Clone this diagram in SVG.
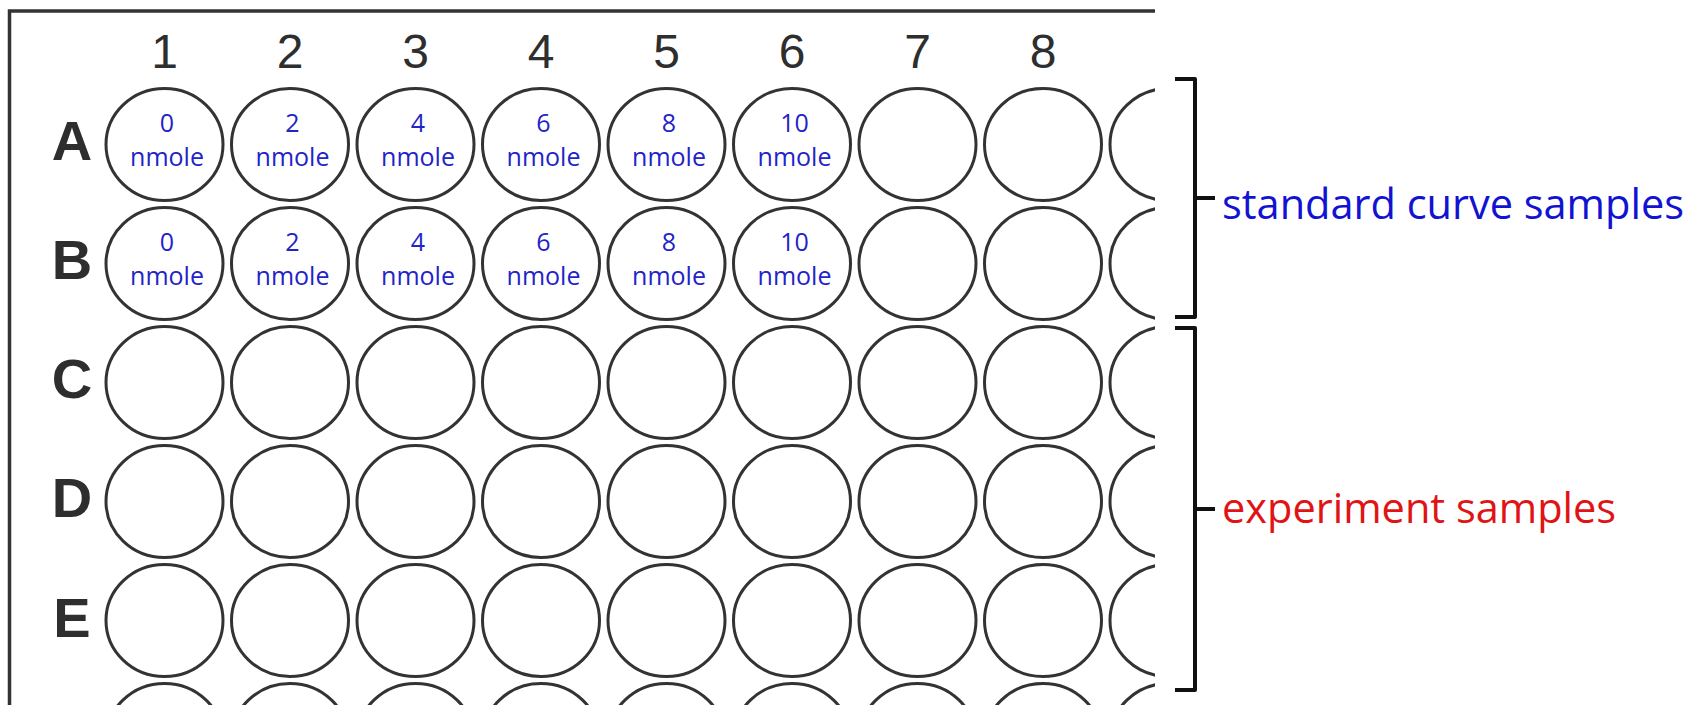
<svg xmlns="http://www.w3.org/2000/svg" width="1699" height="705" viewBox="0 0 1699 705">
<defs>
<style>
.well{fill:#fff;stroke:#333;stroke-width:3}
.col{font-family:"Liberation Sans",Arial,sans-serif;font-size:48px;fill:#2e2e2e;text-anchor:middle}
.row{font-family:"Liberation Sans",Arial,sans-serif;font-size:56px;font-weight:bold;fill:#2e2e2e;text-anchor:middle}
.amt{font-family:"Open Sans",sans-serif;font-size:25px;fill:#2323c8;text-anchor:middle}
.brace{fill:none;stroke:#111;stroke-width:4;stroke-linejoin:round}
.lbl{font-family:"Open Sans",sans-serif;font-size:41.5px}
</style>
<clipPath id="plateClip"><rect x="0" y="0" width="1155" height="705"/></clipPath>
</defs>
<rect width="1699" height="705" fill="#fff"/>
<g id="plate">
<path d="M9.5,705 L9.5,11 L1155,11" fill="none" stroke="#333" stroke-width="3.5"/>
</g>
<g id="column-labels">
<text class="col" x="164.5" y="68">1</text>
<text class="col" x="290" y="68">2</text>
<text class="col" x="415.5" y="68">3</text>
<text class="col" x="541" y="68">4</text>
<text class="col" x="666.5" y="68">5</text>
<text class="col" x="792" y="68">6</text>
<text class="col" x="917.5" y="68">7</text>
<text class="col" x="1043" y="68">8</text>
</g>
<g id="row-labels">
<text class="row" x="72" y="160">A</text>
<text class="row" x="72" y="279">B</text>
<text class="row" x="72" y="398">C</text>
<text class="row" x="72" y="517">D</text>
<text class="row" x="72" y="637">E</text>
</g>
<g id="wells" clip-path="url(#plateClip)">
<g id="A1"><ellipse class="well" cx="164.5" cy="144.5" rx="58.5" ry="56"/><text class="amt" x="167" y="132">0</text><text class="amt" x="167" y="166">nmole</text></g>
<g id="A2"><ellipse class="well" cx="290" cy="144.5" rx="58.5" ry="56"/><text class="amt" x="292.5" y="132">2</text><text class="amt" x="292.5" y="166">nmole</text></g>
<g id="A3"><ellipse class="well" cx="415.5" cy="144.5" rx="58.5" ry="56"/><text class="amt" x="418" y="132">4</text><text class="amt" x="418" y="166">nmole</text></g>
<g id="A4"><ellipse class="well" cx="541" cy="144.5" rx="58.5" ry="56"/><text class="amt" x="543.5" y="132">6</text><text class="amt" x="543.5" y="166">nmole</text></g>
<g id="A5"><ellipse class="well" cx="666.5" cy="144.5" rx="58.5" ry="56"/><text class="amt" x="669" y="132">8</text><text class="amt" x="669" y="166">nmole</text></g>
<g id="A6"><ellipse class="well" cx="792" cy="144.5" rx="58.5" ry="56"/><text class="amt" x="794.5" y="132">10</text><text class="amt" x="794.5" y="166">nmole</text></g>
<g id="A7"><ellipse class="well" cx="917.5" cy="144.5" rx="58.5" ry="56"/></g>
<g id="A8"><ellipse class="well" cx="1043" cy="144.5" rx="58.5" ry="56"/></g>
<g id="A9"><ellipse class="well" cx="1168.5" cy="144.5" rx="58.5" ry="56"/></g>
<g id="B1"><ellipse class="well" cx="164.5" cy="263.5" rx="58.5" ry="56"/><text class="amt" x="167" y="251">0</text><text class="amt" x="167" y="285">nmole</text></g>
<g id="B2"><ellipse class="well" cx="290" cy="263.5" rx="58.5" ry="56"/><text class="amt" x="292.5" y="251">2</text><text class="amt" x="292.5" y="285">nmole</text></g>
<g id="B3"><ellipse class="well" cx="415.5" cy="263.5" rx="58.5" ry="56"/><text class="amt" x="418" y="251">4</text><text class="amt" x="418" y="285">nmole</text></g>
<g id="B4"><ellipse class="well" cx="541" cy="263.5" rx="58.5" ry="56"/><text class="amt" x="543.5" y="251">6</text><text class="amt" x="543.5" y="285">nmole</text></g>
<g id="B5"><ellipse class="well" cx="666.5" cy="263.5" rx="58.5" ry="56"/><text class="amt" x="669" y="251">8</text><text class="amt" x="669" y="285">nmole</text></g>
<g id="B6"><ellipse class="well" cx="792" cy="263.5" rx="58.5" ry="56"/><text class="amt" x="794.5" y="251">10</text><text class="amt" x="794.5" y="285">nmole</text></g>
<g id="B7"><ellipse class="well" cx="917.5" cy="263.5" rx="58.5" ry="56"/></g>
<g id="B8"><ellipse class="well" cx="1043" cy="263.5" rx="58.5" ry="56"/></g>
<g id="B9"><ellipse class="well" cx="1168.5" cy="263.5" rx="58.5" ry="56"/></g>
<g id="C1"><ellipse class="well" cx="164.5" cy="382.5" rx="58.5" ry="56"/></g>
<g id="C2"><ellipse class="well" cx="290" cy="382.5" rx="58.5" ry="56"/></g>
<g id="C3"><ellipse class="well" cx="415.5" cy="382.5" rx="58.5" ry="56"/></g>
<g id="C4"><ellipse class="well" cx="541" cy="382.5" rx="58.5" ry="56"/></g>
<g id="C5"><ellipse class="well" cx="666.5" cy="382.5" rx="58.5" ry="56"/></g>
<g id="C6"><ellipse class="well" cx="792" cy="382.5" rx="58.5" ry="56"/></g>
<g id="C7"><ellipse class="well" cx="917.5" cy="382.5" rx="58.5" ry="56"/></g>
<g id="C8"><ellipse class="well" cx="1043" cy="382.5" rx="58.5" ry="56"/></g>
<g id="C9"><ellipse class="well" cx="1168.5" cy="382.5" rx="58.5" ry="56"/></g>
<g id="D1"><ellipse class="well" cx="164.5" cy="501.5" rx="58.5" ry="56"/></g>
<g id="D2"><ellipse class="well" cx="290" cy="501.5" rx="58.5" ry="56"/></g>
<g id="D3"><ellipse class="well" cx="415.5" cy="501.5" rx="58.5" ry="56"/></g>
<g id="D4"><ellipse class="well" cx="541" cy="501.5" rx="58.5" ry="56"/></g>
<g id="D5"><ellipse class="well" cx="666.5" cy="501.5" rx="58.5" ry="56"/></g>
<g id="D6"><ellipse class="well" cx="792" cy="501.5" rx="58.5" ry="56"/></g>
<g id="D7"><ellipse class="well" cx="917.5" cy="501.5" rx="58.5" ry="56"/></g>
<g id="D8"><ellipse class="well" cx="1043" cy="501.5" rx="58.5" ry="56"/></g>
<g id="D9"><ellipse class="well" cx="1168.5" cy="501.5" rx="58.5" ry="56"/></g>
<g id="E1"><ellipse class="well" cx="164.5" cy="620.5" rx="58.5" ry="56"/></g>
<g id="E2"><ellipse class="well" cx="290" cy="620.5" rx="58.5" ry="56"/></g>
<g id="E3"><ellipse class="well" cx="415.5" cy="620.5" rx="58.5" ry="56"/></g>
<g id="E4"><ellipse class="well" cx="541" cy="620.5" rx="58.5" ry="56"/></g>
<g id="E5"><ellipse class="well" cx="666.5" cy="620.5" rx="58.5" ry="56"/></g>
<g id="E6"><ellipse class="well" cx="792" cy="620.5" rx="58.5" ry="56"/></g>
<g id="E7"><ellipse class="well" cx="917.5" cy="620.5" rx="58.5" ry="56"/></g>
<g id="E8"><ellipse class="well" cx="1043" cy="620.5" rx="58.5" ry="56"/></g>
<g id="E9"><ellipse class="well" cx="1168.5" cy="620.5" rx="58.5" ry="56"/></g>
<g id="F1"><ellipse class="well" cx="164.5" cy="739.5" rx="58.5" ry="56"/></g>
<g id="F2"><ellipse class="well" cx="290" cy="739.5" rx="58.5" ry="56"/></g>
<g id="F3"><ellipse class="well" cx="415.5" cy="739.5" rx="58.5" ry="56"/></g>
<g id="F4"><ellipse class="well" cx="541" cy="739.5" rx="58.5" ry="56"/></g>
<g id="F5"><ellipse class="well" cx="666.5" cy="739.5" rx="58.5" ry="56"/></g>
<g id="F6"><ellipse class="well" cx="792" cy="739.5" rx="58.5" ry="56"/></g>
<g id="F7"><ellipse class="well" cx="917.5" cy="739.5" rx="58.5" ry="56"/></g>
<g id="F8"><ellipse class="well" cx="1043" cy="739.5" rx="58.5" ry="56"/></g>
<g id="F9"><ellipse class="well" cx="1168.5" cy="739.5" rx="58.5" ry="56"/></g>
</g>
<g id="connectors">
<path class="brace" d="M1175,79 L1195,79 L1195,317 L1175,317 M1195,198 L1215,198"/>
<path class="brace" d="M1175,328 L1195,328 L1195,690 L1175,690 M1195,509 L1215,509"/>
</g>
<g id="standard-label"><text class="lbl" x="1222" y="219" fill="#1212d2">standard curve samples</text></g>
<g id="experiment-label"><text class="lbl" x="1222" y="523" fill="#e01414">experiment samples</text></g>
</svg>
